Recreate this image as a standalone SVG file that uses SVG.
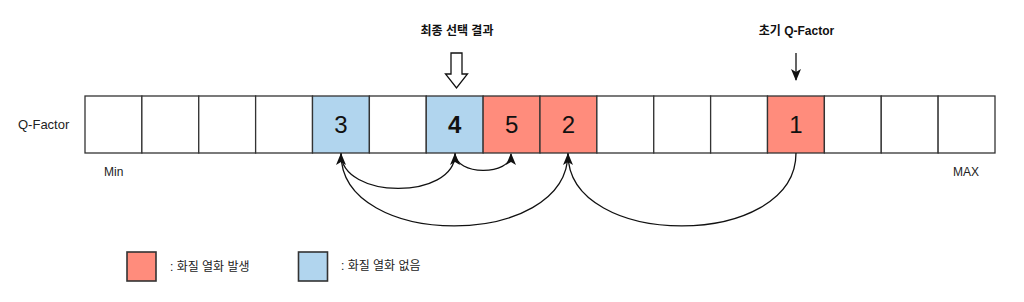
<svg xmlns="http://www.w3.org/2000/svg" width="1024" height="302" viewBox="0 0 1024 302">
<style>
.cell{stroke:#333;stroke-width:1.3;fill:#fff}
.red{fill:#FF8C7C}
.blue{fill:#B1D5EE}
.num{font-family:"Liberation Sans",Arial,sans-serif;font-size:24px;fill:#111;text-anchor:middle}
.lbl{font-family:"Liberation Sans","Noto Sans CJK KR",sans-serif;font-size:12px;fill:#222}
.ttl{font-family:"Liberation Sans","Noto Sans CJK KR",sans-serif;font-size:12px;font-weight:bold;fill:#111;text-anchor:middle}
.edge{fill:none;stroke:#111;stroke-width:1.3;marker-end:url(#ah)}
</style>
<defs>
<marker id="ah" markerUnits="userSpaceOnUse" markerWidth="12" markerHeight="10" refX="11" refY="5" orient="auto" viewBox="0 0 12 10">
<path d="M0,0 L12,5 L0,10 L3,5 z" fill="#111"/>
</marker>
</defs>
<rect width="1024" height="302" fill="#fff"/>
<text class="lbl" x="18" y="129" style="font-size:13px">Q-Factor</text>
<text class="lbl" x="104" y="176">Min</text>
<text class="lbl" x="953" y="176">MAX</text>
<g id="cells">
<rect class="cell" x="85" y="96" width="56.875" height="57"/>
<rect class="cell" x="141.875" y="96" width="56.875" height="57"/>
<rect class="cell" x="198.75" y="96" width="56.875" height="57"/>
<rect class="cell" x="255.625" y="96" width="56.875" height="57"/>
<g id="n3"><rect class="cell blue" x="312.5" y="96" width="56.875" height="57"/><text class="num" x="341" y="133">3</text></g>
<rect class="cell" x="369.375" y="96" width="56.875" height="57"/>
<g id="n4"><rect class="cell blue" x="426.25" y="96" width="56.875" height="57"/><text class="num" x="454.7" y="133" font-weight="bold">4</text></g>
<g id="n5"><rect class="cell red" x="483.125" y="96" width="56.875" height="57"/><text class="num" x="511.6" y="133">5</text></g>
<g id="n2"><rect class="cell red" x="540" y="96" width="56.875" height="57"/><text class="num" x="568.4" y="133">2</text></g>
<rect class="cell" x="596.875" y="96" width="56.875" height="57"/>
<rect class="cell" x="653.75" y="96" width="56.875" height="57"/>
<rect class="cell" x="710.625" y="96" width="56.875" height="57"/>
<g id="n1"><rect class="cell red" x="767.5" y="96" width="56.875" height="57"/><text class="num" x="796" y="133">1</text></g>
<rect class="cell" x="824.375" y="96" width="56.875" height="57"/>
<rect class="cell" x="881.25" y="96" width="56.875" height="57"/>
<rect class="cell" x="938.125" y="96" width="56.875" height="57"/>
</g>
<g id="final-label">
<text class="ttl" x="457" y="35">최종 선택 결과</text>
<path d="M451,53 H462 V74 H467.5 L456.5,88 L445.5,74 H451 Z" fill="#fff" stroke="#111" stroke-width="1.3"/>
</g>
<g id="init-label">
<text class="ttl" x="796.5" y="35">초기 Q-Factor</text>
<path d="M796,53 V80" fill="none" stroke="#111" stroke-width="1.3" marker-end="url(#ah)"/>
</g>
<g id="connectors">
<path class="edge" d="M796,153 C796,250 568,250 568,154"/>
<path class="edge" d="M568,153 C568,250 341,250 341,154"/>
<path class="edge" d="M341,153 C341,200 455,200 455,154"/>
<path class="edge" d="M455,153 C455,176 511,176 511,154"/>
</g>
<g id="legend">
<rect class="cell red" x="127" y="252" width="29" height="29" style="stroke-width:1.6"/>
<text class="lbl" x="170" y="271">: 화질 열화 발생</text>
<rect class="cell blue" x="298.5" y="252" width="29" height="29" style="stroke-width:1.6"/>
<text class="lbl" x="341" y="270">: 화질 열화 없음</text>
</g>
</svg>
